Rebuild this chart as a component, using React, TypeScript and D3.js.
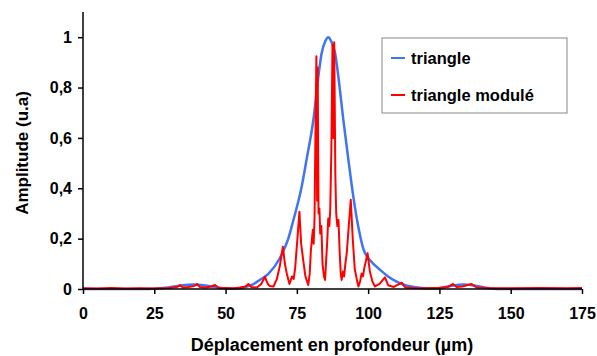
import { useEffect, useRef } from 'react';
import * as d3 from 'd3';

// x positions (µm) and amplitudes
const triangleX = [0, 20, 26, 30, 34, 38.7, 43, 47, 50, 53, 56, 59, 62, 65, 69, 72, 73.8, 76.7, 78.5, 80.8, 82.5, 83.7, 85, 86, 87, 88.4, 89.8, 91.3, 93, 94.8, 96.5, 98.3, 101, 104.2, 107, 110, 113, 116, 120, 124, 128, 133.4, 138, 142, 146, 175];
const triangleY = [0, 0, 0.002, 0.006, 0.013, 0.018, 0.014, 0.007, 0.002, 0.001, 0.005, 0.015, 0.036, 0.06, 0.122, 0.2, 0.274, 0.407, 0.52, 0.672, 0.84, 0.937, 0.985, 1.0, 0.985, 0.937, 0.82, 0.672, 0.52, 0.367, 0.25, 0.16, 0.11, 0.076, 0.05, 0.029, 0.015, 0.008, 0.003, 0.002, 0.01, 0.018, 0.012, 0.004, 0, 0];

const moduleX = [0, 5, 10, 15, 20, 25, 30, 33, 34, 35, 37, 39, 40, 41, 43, 45, 46.3, 47.5, 50, 53, 55, 57, 58, 59, 61, 62.5, 63.8, 64.8, 65.5, 66.8, 68, 69, 70.1, 70.8, 71.5, 72.4, 73.3, 73.9, 74.4, 75.2, 75.9, 76.5, 77.3, 78, 79, 79.5, 79.9, 80.3, 80.6, 80.9, 81.2, 81.5, 81.85, 82.1, 82.3, 82.6, 82.9, 83.2, 83.6, 84, 84.5, 84.9, 85.3, 85.7, 86, 86.4, 86.7, 87.1, 87.5, 87.8, 88.1, 88.5, 88.8, 89.2, 89.6, 90, 90.4, 90.7, 91.2, 91.6, 92, 92.5, 93.2, 93.9, 94.6, 95.3, 96, 96.6, 97.2, 97.7, 98.2, 98.6, 99.8, 100.6, 101.5, 102.4, 104, 105.9, 107, 109, 111.8, 113, 116, 120, 125, 128, 129.8, 131, 133, 136.3, 138, 142, 150, 160, 170, 175];
const moduleY = [0.003, 0.002, 0.004, 0.002, 0.003, 0.002, 0.004, 0.008, 0.016, 0.006, 0.008, 0.012, 0.02, 0.008, 0.006, 0.01, 0.016, 0.005, 0.004, 0.003, 0.006, 0.01, 0.02, 0.008, 0.006, 0.02, 0.048, 0.02, 0.012, 0.01, 0.04, 0.09, 0.168, 0.1, 0.06, 0.02, 0.05, 0.04, 0.083, 0.2, 0.307, 0.18, 0.109, 0.05, 0.016, 0.06, 0.15, 0.2, 0.235, 0.18, 0.28, 0.6, 0.924, 0.35, 0.88, 0.3, 0.32, 0.22, 0.25, 0.1, 0.05, 0.036, 0.12, 0.2, 0.28, 0.25, 0.314, 0.55, 0.97, 0.6, 0.98, 0.45, 0.3, 0.25, 0.274, 0.15, 0.06, 0.036, 0.07, 0.05, 0.1, 0.143, 0.25, 0.354, 0.2, 0.08, 0.04, 0.01, 0.03, 0.062, 0.05, 0.08, 0.142, 0.07, 0.03, 0.01, 0.02, 0.046, 0.015, 0.008, 0.025, 0.006, 0.004, 0.003, 0.005, 0.008, 0.02, 0.008, 0.01, 0.02, 0.006, 0.004, 0.003, 0.004, 0.003, 0.004];

const xTicks = [0, 25, 50, 75, 100, 125, 150, 175];
const yTicks = [0, 0.2, 0.4, 0.6, 0.8, 1];
const seriesLabels = ['triangle', 'triangle modulé'];
const seriesColors = ['#3f74f2', '#ff0000'];

export default function App() {
  const svgRef = useRef<SVGSVGElement>(null);

  useEffect(() => {
    if (!svgRef.current) return;
    const width = 597;
    const height = 356;
    const margin = { top: 12, right: 15, bottom: 67, left: 83 };
    const innerWidth = width - margin.left - margin.right;
    const innerHeight = height - margin.top - margin.bottom;
    const font = 'Liberation Sans, Arial, sans-serif';

    d3.select(svgRef.current).selectAll('*').remove();
    const svg = d3.select(svgRef.current).attr('width', width).attr('height', height);
    svg.append('rect').attr('width', width).attr('height', height).attr('fill', 'white');

    const g = svg.append('g').attr('transform', `translate(${margin.left},${margin.top})`);

    const xScale = d3.scaleLinear().domain([0, 175]).range([0, innerWidth]);
    const yScale = d3.scaleLinear().domain([0, 1.1]).range([innerHeight, 0]);

    const line = d3.line<[number, number]>()
      .x(d => xScale(d[0]))
      .y(d => yScale(d[1]));

    const triData = triangleX.map((x, i) => [x, triangleY[i]] as [number, number]);
    const modData = moduleX.map((x, i) => [x, moduleY[i]] as [number, number]);

    g.append('path')
      .datum(triData)
      .attr('fill', 'none')
      .attr('stroke', seriesColors[0])
      .attr('stroke-width', 2.5)
      .attr('d', line.curve(d3.curveMonotoneX));

    g.append('path')
      .datum(modData)
      .attr('fill', 'none')
      .attr('stroke', seriesColors[1])
      .attr('stroke-width', 2)
      .attr('stroke-linejoin', 'round')
      .attr('d', line.curve(d3.curveLinear));

    // Axes
    const xAxis = g.append('g')
      .attr('transform', `translate(0,${innerHeight})`)
      .call(d3.axisBottom(xScale).tickValues(xTicks).tickSize(5).tickPadding(14).tickFormat(d => String(d)));
    const yAxis = g.append('g')
      .call(d3.axisLeft(yScale).tickValues(yTicks).tickSize(5).tickPadding(6)
        .tickFormat(d => String(d).replace('.', ',')));

    [xAxis, yAxis].forEach(ax => {
      ax.select('.domain').attr('stroke', '#000').attr('stroke-width', 1.5);
      ax.selectAll('.tick line').attr('stroke', '#000').attr('stroke-width', 1.5);
      ax.selectAll('text')
        .style('font-family', font)
        .style('font-size', '16px')
        .style('font-weight', 'bold')
        .style('fill', '#000');
    });
    yAxis.select('.domain').attr('d', `M0,0V${innerHeight}`);
    xAxis.select('.domain').attr('d', `M0,0H${innerWidth}`);

    // Axis titles
    g.append('text')
      .attr('x', 332 - margin.left)
      .attr('y', innerHeight + 62)
      .attr('text-anchor', 'middle')
      .style('font-family', font)
      .style('font-size', '18px')
      .style('font-weight', 'bold')
      .text('Déplacement en profondeur (µm)');

    g.append('text')
      .attr('transform', 'rotate(-90)')
      .attr('x', -(153 - margin.top))
      .attr('y', -55)
      .attr('text-anchor', 'middle')
      .style('font-family', font)
      .style('font-size', '17px')
      .style('font-weight', 'bold')
      .text('Amplitude (u.a)');

    // Legend
    const legend = svg.append('g').attr('transform', 'translate(382,38)');
    legend.append('rect')
      .attr('width', 185)
      .attr('height', 75)
      .attr('fill', 'white')
      .attr('stroke', '#888')
      .attr('stroke-width', 1);

    seriesLabels.forEach((label, i) => {
      const row = legend.append('g').attr('transform', `translate(0,${20 + i * 37})`);
      row.append('line')
        .attr('x1', 9).attr('x2', 23)
        .attr('stroke', seriesColors[i])
        .attr('stroke-width', 2);
      row.append('text')
        .attr('x', 29)
        .attr('y', 6)
        .style('font-family', font)
        .style('font-size', '16.5px')
        .style('font-weight', 'bold')
        .text(label);
    });
  }, []);

  return (
    <div style={{ position: 'fixed', left: 0, top: 0 }}>
      <svg ref={svgRef} style={{ display: 'block' }}></svg>
    </div>
  );
}
